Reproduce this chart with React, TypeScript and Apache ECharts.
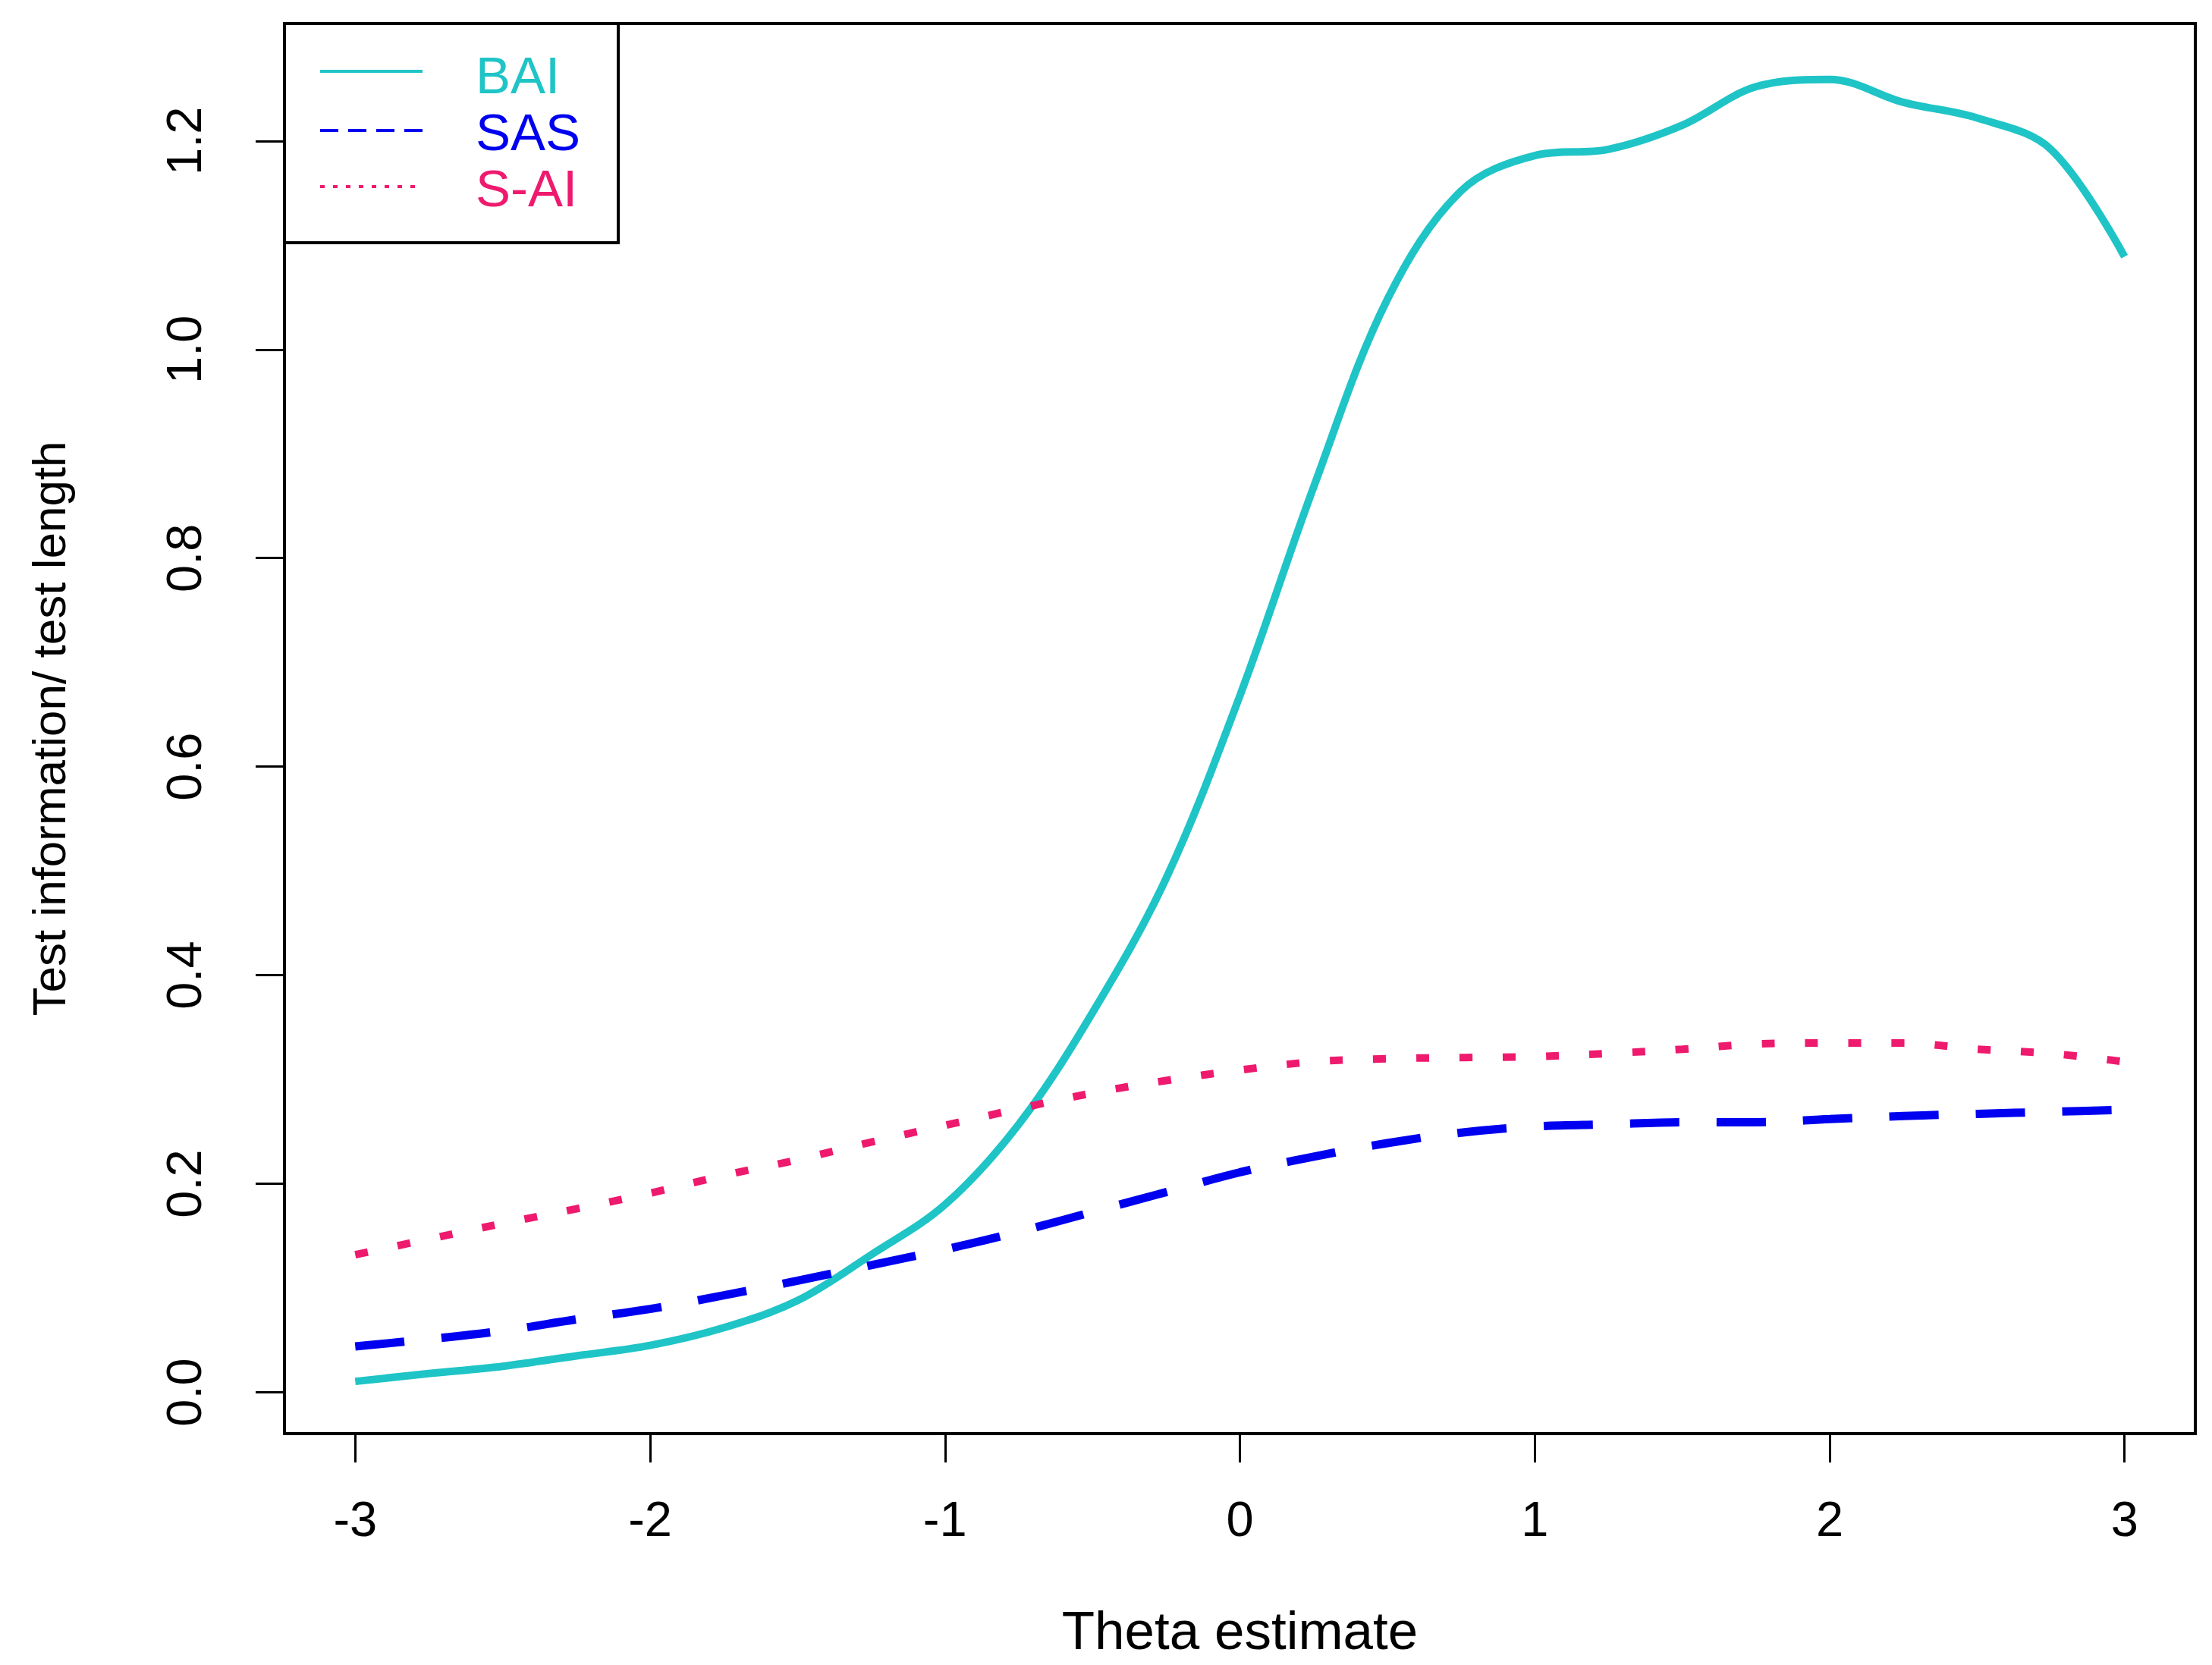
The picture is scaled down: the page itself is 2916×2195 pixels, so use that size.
import React, { useEffect, useRef } from "react";
import * as echarts from "echarts";

// ---- data ----
const theta = [
  -3, -2.75, -2.5, -2.25, -2, -1.75, -1.5, -1.25, -1, -0.75, -0.5, -0.25, 0,
  0.25, 0.5, 0.75, 1, 1.25, 1.5, 1.75, 2, 2.25, 2.5, 2.75, 3,
];
const baiValues = [
  0.0105, 0.018, 0.025, 0.035, 0.045, 0.062, 0.088, 0.132, 0.18, 0.257, 0.364,
  0.493, 0.668, 0.868, 1.048, 1.152, 1.186, 1.192, 1.215, 1.252, 1.259, 1.237,
  1.222, 1.192, 1.089,
];
const sasValues = [
  0.044, 0.051, 0.059, 0.07, 0.08, 0.093, 0.107, 0.122, 0.137, 0.154, 0.173,
  0.192, 0.211, 0.226, 0.239, 0.249, 0.255, 0.257, 0.259, 0.259, 0.262, 0.265,
  0.267, 0.269, 0.271,
];
const saiValues = [
  0.132, 0.147, 0.162, 0.176, 0.191, 0.208, 0.223, 0.24, 0.256, 0.272, 0.287,
  0.299, 0.309, 0.317, 0.32, 0.321, 0.322, 0.325, 0.329, 0.334, 0.335, 0.335,
  0.329, 0.325, 0.317,
];
const xTicks = [-3, -2, -1, 0, 1, 2, 3];
const yTicks = [0, 0.2, 0.4, 0.6, 0.8, 1.0, 1.2];
const seriesNames = ["BAI", "SAS", "S-AI"];
const xTitle = "Theta estimate";
const yTitle = "Test information/ test length";

const COLORS = { BAI: "#1fc4c6", SAS: "#0000f0", SAI: "#ee1a6e" };
const FONT = "'Liberation Sans', Arial, sans-serif";

export default function App() {
  const ref = useRef<HTMLDivElement>(null);

  useEffect(() => {
    if (!ref.current) return;
    const chart = echarts.init(ref.current, undefined, { renderer: "svg" });
    const pairs = (vals: number[]) => theta.map((t, i) => [t, vals[i]]);

    const legendX1 = 422;
    const legendX2 = 557;
    const legendTextX = 627;
    const rows = [
      { y: 94, ty: 99, color: COLORS.BAI, dash: null as number[] | null, name: seriesNames[0] },
      { y: 172, ty: 174, color: COLORS.SAS, dash: [24, 13], name: seriesNames[1] },
      { y: 246, ty: 248, color: COLORS.SAI, dash: [6, 11], name: seriesNames[2] },
    ];
    const legendGraphics: any[] = [
      {
        type: "rect",
        shape: { x: 375, y: 31, width: 440, height: 289 },
        style: { fill: "#fff", stroke: "#000", lineWidth: 4 },
        z: 10,
      },
    ];
    rows.forEach((r) => {
      legendGraphics.push({
        type: "line",
        shape: { x1: legendX1, y1: r.y, x2: legendX2, y2: r.y },
        style: { stroke: r.color, lineWidth: 4, lineDash: r.dash || undefined },
        z: 11,
      });
      legendGraphics.push({
        type: "text",
        x: legendTextX,
        y: r.ty,
        style: {
          text: r.name,
          fill: r.color,
          font: `69px ${FONT}`,
          verticalAlign: "middle",
        },
        z: 11,
      });
    });

    chart.setOption({
      animation: false,
      backgroundColor: "#fff",
      grid: {
        left: 375,
        right: 22,
        top: 31,
        bottom: 305,
        show: true,
        borderColor: "#000",
        borderWidth: 4,
        backgroundColor: "transparent",
      },
      xAxis: {
        type: "value",
        min: -3.24,
        max: 3.24,
        name: xTitle,
        nameLocation: "middle",
        nameGap: 224,
        nameTextStyle: { fontFamily: FONT, fontSize: 71, color: "#000" },
        axisLine: { show: false, onZero: false },
        splitLine: { show: false },
        axisTick: {
          show: true,
          length: 38,
          lineStyle: { color: "#000", width: 3 },
          customValues: xTicks,
        },
        axisLabel: {
          customValues: xTicks,
          margin: 80,
          fontFamily: FONT,
          fontSize: 65,
          color: "#000",
          formatter: (v: number) => String(v),
        },
      },
      yAxis: {
        type: "value",
        min: -0.0396,
        max: 1.3126,
        name: yTitle,
        nameLocation: "middle",
        nameGap: 280,
        nameTextStyle: { fontFamily: FONT, fontSize: 62, color: "#000" },
        axisLine: { show: false, onZero: false },
        splitLine: { show: false },
        axisTick: {
          show: true,
          length: 38,
          lineStyle: { color: "#000", width: 3 },
          customValues: yTicks,
        },
        axisLabel: {
          customValues: yTicks,
          rotate: 90,
          margin: 100,
          fontFamily: FONT,
          fontSize: 65,
          color: "#000",
          formatter: (v: number) => v.toFixed(1),
        },
      },
      series: [
        {
          name: seriesNames[0],
          type: "line",
          data: pairs(baiValues),
          showSymbol: false,
          smooth: 0.35,
          lineStyle: { color: COLORS.BAI, width: 10, type: "solid" },
          z: 2,
        },
        {
          name: seriesNames[1],
          type: "line",
          data: pairs(sasValues),
          showSymbol: false,
          smooth: 0.35,
          lineStyle: { color: COLORS.SAS, width: 11, type: [65, 49], cap: "butt" },
          z: 3,
        },
        {
          name: seriesNames[2],
          type: "line",
          data: pairs(saiValues),
          showSymbol: false,
          smooth: 0.35,
          lineStyle: { color: COLORS.SAI, width: 10, type: [17, 40], cap: "butt" },
          z: 4,
        },
      ],
      graphic: legendGraphics,
    });

    return () => chart.dispose();
  }, []);

  return (
    <div
      ref={ref}
      style={{ position: "fixed", left: 0, top: 0, width: 2916, height: 2195, background: "#fff" }}
    />
  );
}
